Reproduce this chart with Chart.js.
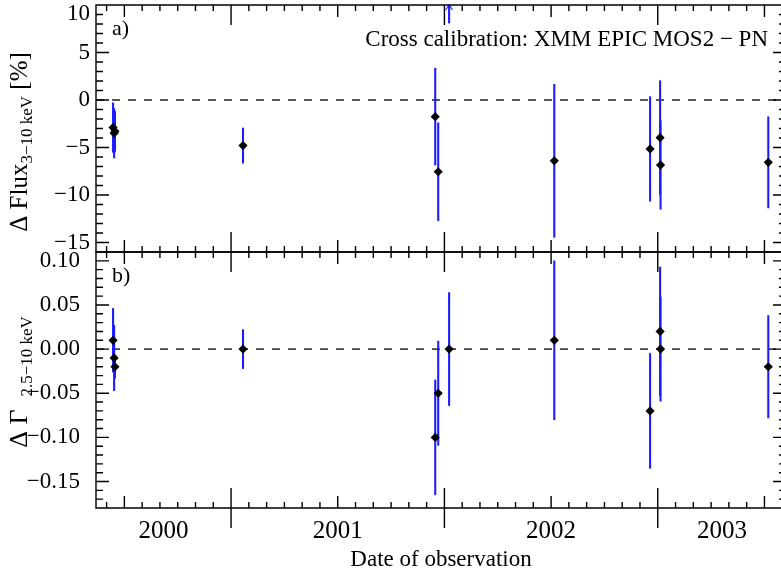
<!DOCTYPE html>
<html><head><meta charset="utf-8">
<script src="https://cdn.jsdelivr.net/npm/chart.js@4.4.1/dist/chart.umd.min.js"></script>
<style>
html,body{margin:0;padding:0;background:#fff;overflow:hidden;}
#wrap{position:relative;width:781px;height:574px;overflow:hidden;background:#fff;}
#wrap canvas{position:absolute;left:0;}
#cTop{top:0;} #cBot{top:240px;}
</style></head><body>
<div id="wrap"><canvas id="cTop" width="800" height="262"></canvas><canvas id="cBot" width="800" height="334"></canvas></div>
<script>
// ---- data (decimal year of observation) ----
const obsDates  = [2000.447, 2000.452, 2000.456, 2001.056, 2001.957, 2001.971, 2002.022, 2002.515, 2002.964, 2003.011, 2003.013, 2003.518];
const fluxDiff  = [-2.9, -3.5, -3.3, -4.8, -1.75, -7.55, 13.0, -6.4, -5.15, -3.97, -6.85, -6.56];
const fluxErr   = [2.6, 2.6, 2.1, 1.85, 5.1, 5.15, 4.9, 8.05, 5.5, 6.0, 4.65, 4.8];
const gammaDiff = [0.01, -0.01, -0.02, 0.00, -0.10, -0.05, 0.00, 0.01, -0.07, 0.02, 0.00, -0.02];
const gammaErr  = [0.036, 0.037, 0.013, 0.022, 0.065, 0.059, 0.064, 0.09, 0.065, 0.073, 0.059, 0.058];
const yearLabels = [2000, 2001, 2002, 2003];
const fluxTicks  = [-15, -10, -5, 0, 5, 10];
const gammaTicks = [-0.15, -0.10, -0.05, 0.00, 0.05, 0.10];
const dateRange  = [2000.367, 2003.601];
const fluxRange  = [-16, 10];
const gammaRange = [-0.18, 0.11];
const noteText = 'Cross calibration: XMM EPIC MOS2 − PN';
const xTitle = 'Date of observation';
const fluxTitle  = [{t:'Δ Flux', s:25}, {t:'3−10 keV', s:17, sub:true}, {t:' [%]', s:25}];
const gammaTitle = [{t:'Δ Γ  ', s:26}, {t:'2.5−10 keV', s:17, sub:true}];

const SERIF = '"Liberation Serif", "DejaVu Serif", serif';
const BLUE = '#1a1aff';

const chev = document.createElement('canvas'); chev.width = 14; chev.height = 14;
(function(){ const c = chev.getContext('2d'); c.strokeStyle = BLUE; c.lineWidth = 1.2;
  c.beginPath(); c.moveTo(3.5, 12); c.lineTo(7, 7); c.lineTo(10.5, 12); c.stroke(); })();

const panelPlugin = {
  id: 'panel',
  afterDatasetsDraw(chart, args, o) {
    const {ctx, chartArea: a} = chart; const x = chart.scales.x, y = chart.scales.y;
    ctx.save(); ctx.strokeStyle = '#000'; ctx.lineWidth = 1.4;
    ctx.beginPath();
    ctx.rect(a.left, a.top, a.right - a.left, a.bottom - a.top);
    const n0 = Math.ceil(y.min / o.minor - 1e-6), n1 = Math.floor(y.max / o.minor + 1e-6);
    for (let k = n0; k <= n1; k++) {
      const py = y.getPixelForValue(k * o.minor);
      const len = (k % o.majorEvery === 0) ? 13 : 7;
      ctx.moveTo(a.left, py); ctx.lineTo(a.left + len, py);
      ctx.moveTo(a.right, py); ctx.lineTo(a.right - len, py);
    }
    for (let yr = Math.floor(x.min); yr <= Math.ceil(x.max); yr++) {
      for (let m = 0; m < 12; m++) {
        const v = yr + m / 12; if (v < x.min || v > x.max) continue;
        const px = x.getPixelForValue(v);
        const len = m === 0 ? 20 : (m === 6 ? 12 : 6);
        ctx.moveTo(px, a.top); ctx.lineTo(px, a.top + len);
        ctx.moveTo(px, a.bottom); ctx.lineTo(px, a.bottom - len);
        if (m === 0 && o.outerJan) { ctx.moveTo(px, a.bottom); ctx.lineTo(px, a.bottom + 20); }
      }
    }
    ctx.stroke();
    // texts
    ctx.fillStyle = '#000'; ctx.textBaseline = 'alphabetic';
    ctx.font = '22px ' + SERIF; ctx.textAlign = 'left';
    ctx.fillText(o.tag, a.left + 16, a.top + 30);
    if (o.note) { ctx.font = '23px ' + SERIF; ctx.textAlign = 'right'; ctx.fillText(o.note, 768, a.top + 41); }
    // rotated y title with subscript
    ctx.textAlign = 'left';
    let total = 0;
    o.title.forEach(p => { ctx.font = p.s + 'px ' + SERIF; p.w = ctx.measureText(p.t).width; total += p.w; });
    ctx.translate(o.titleX, o.titleY); ctx.rotate(-Math.PI / 2);
    let cx = -total / 2;
    o.title.forEach(p => { ctx.font = p.s + 'px ' + SERIF; ctx.fillText(p.t, cx, p.sub ? 5 : 0); cx += p.w; });
    ctx.restore();
  }
};

function xScale(show) {
  return {
    type: 'linear', min: dateRange[0], max: dateRange[1], display: show, offset: false,
    grid: {display: false, drawTicks: false}, border: {display: false},
    afterBuildTicks: s => { s.ticks = yearLabels.map(yr => ({value: (Math.max(yr, dateRange[0]) + Math.min(yr + 1, dateRange[1])) / 2})); },
    afterFit: s => { s.paddingLeft = 0; s.paddingRight = 0; if (show) s.height = 66; },
    ticks: {autoSkip: false, maxRotation: 0, minRotation: 0, padding: 8, color: '#000',
      font: {family: SERIF, size: 25}, callback: v => String(Math.floor(v))},
    title: {display: show, text: xTitle, color: '#000', font: {family: SERIF, size: 23}, padding: {top: 0, bottom: 0}}
  };
}
function yScale(range, tickVals, fmt, pad) {
  return {
    type: 'linear', min: range[0], max: range[1], position: 'left',
    grid: {display: false, drawTicks: false}, border: {display: false},
    afterBuildTicks: s => { s.ticks = tickVals.map(v => ({value: v})); },
    afterFit: s => { s.width = 96; s.paddingTop = 0; s.paddingBottom = 0; },
    ticks: {autoSkip: false, padding: pad, color: '#000', font: {family: SERIF, size: 23, lineHeight: 0.76}, callback: fmt}
  };
}
function datasets(vals, errs, yMax) {
  const ds = [
    {type: 'line', data: [{x: dateRange[0], y: 0}, {x: dateRange[1], y: 0}], borderColor: '#222', borderWidth: 1.5,
     borderDash: [8, 8], pointRadius: 0, order: 3},
    {type: 'bar', data: obsDates.map((d, i) => ({x: d, y: [vals[i] - errs[i], vals[i] + errs[i]]})),
     backgroundColor: BLUE, borderWidth: 0, barThickness: 1.4, order: 2},
    {type: 'scatter', data: obsDates.map((d, i) => ({x: d, y: vals[i]})), pointStyle: 'rectRot', pointRadius: 4.6,
     backgroundColor: '#000', borderWidth: 0, order: 1}
  ];
  const up = obsDates.filter((d, i) => vals[i] > yMax).map(d => ({x: d, y: yMax}));
  if (up.length) ds.push({type: 'scatter', data: up, pointStyle: chev, clip: false, order: 0});
  return ds;
}
const common = (pad, panelOpts, xs, ys, dsets) => ({
  type: 'scatter',
  data: {datasets: dsets},
  options: {responsive: false, animation: false, devicePixelRatio: 1, events: [],
    layout: {padding: pad},
    plugins: {legend: {display: false}, tooltip: {enabled: false}, panel: panelOpts},
    scales: {x: xs, y: ys}},
  plugins: [panelPlugin]
});

new Chart(document.getElementById('cTop'), common(
  {top: 5, bottom: 10, left: 0, right: 14},
  {tag: 'a)', note: noteText, title: fluxTitle, titleX: 27, titleY: 142, minor: 1, majorEvery: 5, outerJan: false},
  xScale(false),
  yScale(fluxRange, fluxTicks, v => { const s = (v < 0 ? '−' : '') + Math.abs(v); return v === fluxRange[1] ? ['', s] : s; }, 6),
  datasets(fluxDiff, fluxErr, fluxRange[1])
));
new Chart(document.getElementById('cBot'), common(
  {top: 12, bottom: 0, left: 0, right: 14},
  {tag: 'b)', note: null, title: gammaTitle, titleX: 27, titleY: 142, minor: 0.01, majorEvery: 5, outerJan: true},
  xScale(true),
  yScale(gammaRange, gammaTicks, v => (v < 0 ? '−' : '') + Math.abs(v).toFixed(2), 16),
  datasets(gammaDiff, gammaErr, gammaRange[1])
));
</script>
</body></html>
